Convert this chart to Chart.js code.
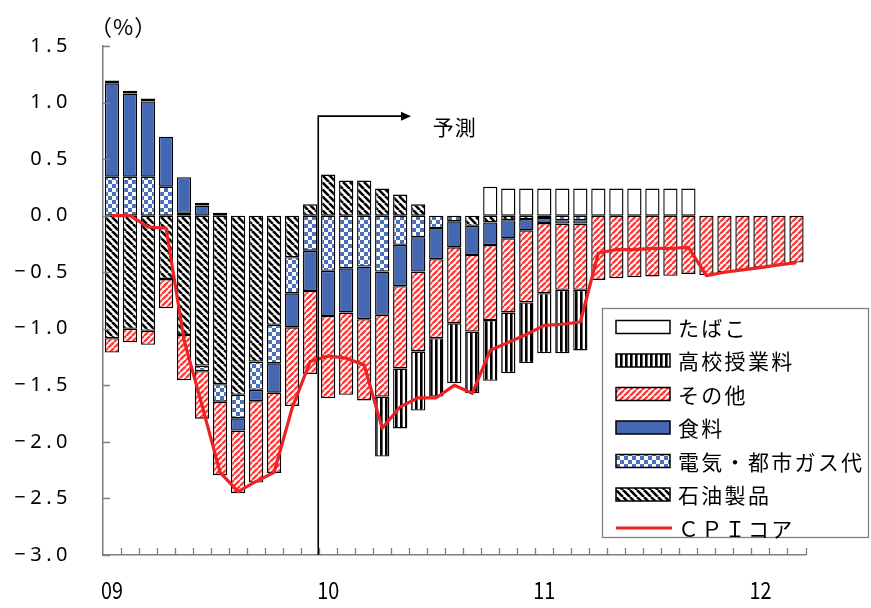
<!DOCTYPE html>
<html>
<head>
<meta charset="utf-8">
<script src="https://cdn.jsdelivr.net/npm/chart.js@4.4.1/dist/chart.umd.min.js"></script>
<style>
  html, body { margin: 0; padding: 0; background: #ffffff; }
  #wrap { position: relative; width: 871px; height: 608px; }
  canvas { display: block; }
</style>
</head>
<body>
<div id="wrap"><canvas id="c" width="871" height="608"></canvas></div>
<script>
// Monthly categories, Jan 2009 - Mar 2012
const categories = [
  '09/1','09/2','09/3','09/4','09/5','09/6','09/7','09/8','09/9','09/10','09/11','09/12',
  '10/1','10/2','10/3','10/4','10/5','10/6','10/7','10/8','10/9','10/10','10/11','10/12',
  '11/1','11/2','11/3','11/4','11/5','11/6','11/7','11/8','11/9','11/10','11/11','11/12',
  '12/1','12/2','12/3'
];
const yearTickMonths = ['09/1', '10/1', '11/1', '12/1'];
const yearTickLabels = ['09', '10', '11', '12'];

// Contributions (percentage points)
const oil = [
  -1.083, -1.00, -1.018, -0.56, -1.054, -1.325, -1.49, -1.584, -1.29, -0.965, -0.367, 0.10,
  0.364, 0.31, 0.31, 0.24, 0.187, 0.10, 0, 0, -0.09, -0.06, -0.04, -0.03,
  -0.02, 0, 0, 0, 0, 0, 0, 0, 0, 0, 0, 0, 0, 0, 0
];
const utilities = [
  0.345, 0.345, 0.345, 0.256, 0.025, -0.05, -0.155, -0.207, -0.25, -0.34, -0.32, -0.31,
  -0.488, -0.465, -0.45, -0.494, -0.258, -0.19, -0.11, -0.05, 0, 0, 0, 0,
  0, -0.04, -0.04, 0, 0, 0, 0, 0, 0, 0, 0, 0, 0, 0, 0
];
const food = [
  0.825, 0.735, 0.665, 0.442, 0.315, 0.09, 0, -0.109, -0.10, -0.26, -0.30, -0.355,
  -0.398, -0.391, -0.465, -0.383, -0.365, -0.304, -0.275, -0.23, -0.257, -0.20, -0.16, -0.10,
  -0.045, -0.03, -0.03, 0, 0, 0, 0, 0, 0, 0, 0, 0, 0, 0, 0
];
const others = [
  -0.127, -0.12, -0.124, -0.258, -0.40, -0.42, -0.65, -0.554, -0.72, -0.71, -0.696, -0.735,
  -0.728, -0.728, -0.719, -0.722, -0.728, -0.707, -0.698, -0.671, -0.678, -0.663, -0.656, -0.637,
  -0.62, -0.586, -0.586, -0.568, -0.553, -0.544, -0.538, -0.532, -0.515, -0.525, -0.50, -0.48, -0.46, -0.435, -0.415
];
const tuition = [
  0, 0, 0, 0, 0, 0, 0, 0, 0, 0, 0, 0,
  0, 0, 0, -0.531, -0.53, -0.522, -0.516, -0.53, -0.545, -0.537, -0.537, -0.536,
  -0.531, -0.56, -0.536, 0, 0, 0, 0, 0, 0, 0, 0, 0, 0, 0, 0
];
const tobacco = [
  0.025, 0.025, 0.025, 0, 0, 0.025, 0.025, 0, 0, 0, 0, 0,
  0, 0, 0, 0, 0, 0, 0, 0, 0, 0.255, 0.24, 0.24,
  0.24, 0.24, 0.24, 0.24, 0.24, 0.24, 0.24, 0.24, 0.24, 0, 0, 0, 0, 0, 0
];
const cpiCore = [
  0.0, 0.0, -0.10, -0.11, -1.10, -1.68, -2.27, -2.44, -2.35, -2.27, -1.70, -1.29,
  -1.24, -1.26, -1.32, -1.88, -1.69, -1.61, -1.61, -1.50, -1.57, -1.19, -1.12, -1.05,
  -0.97, -0.96, -0.94, -0.33, -0.30, -0.30, -0.29, -0.29, -0.28, -0.53, -0.50, -0.48, -0.46, -0.435, -0.415
];
const forecastLabel = '予測';
const unitLabel = '（%）';

// ---- fill patterns ----
function makePattern(size, paint) {
  const c = document.createElement('canvas');
  c.width = size; c.height = size;
  const g = c.getContext('2d');
  paint(g, size);
  return g.createPattern(c, 'repeat');
}
const BLUE = '#4467b3';
const RED = '#ff3a3a';
const redHatch = makePattern(6, (g, s) => {
  g.fillStyle = '#ffffff'; g.fillRect(0, 0, s, s);
  g.strokeStyle = RED; g.lineWidth = 2.3;
  g.beginPath();
  for (const k of [-s, 0, s]) { g.moveTo(k, s); g.lineTo(k + s, 0); }
  g.stroke();
});
const blackHatch = makePattern(7, (g, s) => {
  g.fillStyle = '#ffffff'; g.fillRect(0, 0, s, s);
  g.strokeStyle = '#000000'; g.lineWidth = 2.6;
  g.beginPath();
  for (const k of [-s, 0, s]) { g.moveTo(k, 0); g.lineTo(k + s, s); }
  g.stroke();
});
const checker = makePattern(8, (g, s) => {
  g.fillStyle = '#ffffff'; g.fillRect(0, 0, s, s);
  g.fillStyle = '#4a6fbf';
  g.fillRect(0, 0, s / 2, s / 2);
  g.fillRect(s / 2, s / 2, s / 2, s / 2);
});
const vStripes = makePattern(5, (g, s) => {
  g.fillStyle = '#ffffff'; g.fillRect(0, 0, s, s);
  g.fillStyle = '#000000'; g.fillRect(0, 0, 2.6, s);
});

const nz = arr => arr.map(v => (v === 0 ? null : v));

function barSet(label, data, fill) {
  return {
    type: 'bar', label, data: nz(data), backgroundColor: fill,
    borderColor: '#000000', borderWidth: 1.4, borderSkipped: false,
    stack: 'parts', order: 1,
    categoryPercentage: 1.0, barPercentage: 0.79
  };
}

const datasets = [
  barSet('石油製品', oil, blackHatch),
  barSet('電気・都市ガス代', utilities, checker),
  barSet('食料', food, BLUE),
  barSet('その他', others, redHatch),
  barSet('高校授業料', tuition, vStripes),
  barSet('たばこ', tobacco, '#ffffff'),
  {
    type: 'line', label: 'ＣＰＩコア', data: cpiCore, stack: 'core', order: 0,
    borderColor: '#ee2222', borderWidth: 3.2, pointRadius: 0, tension: 0,
    borderJoinStyle: 'round', fill: false
  }
];

const JP = "'Noto Sans CJK JP', 'Noto Sans', sans-serif";
const AXIS = '#7f7f7f';

const decor = {
  id: 'decor',
  beforeDraw(chart) {
    // spacing for the value-axis numbers
    chart.ctx.letterSpacing = '4.5px';
  },
  beforeDatasetsDraw(chart) {
    chart.ctx.letterSpacing = '0px';
  },
  afterDatasetsDraw(chart) {
    const ctx = chart.ctx;
    const xs = chart.scales.x, ys = chart.scales.y;
    ctx.save();
    ctx.letterSpacing = '0px';
    // inward tick marks
    ctx.strokeStyle = AXIS; ctx.lineWidth = 1.3;
    ctx.beginPath();
    ys.ticks.forEach(t => {
      const y = Math.round(ys.getPixelForValue(t.value)) + 0.5;
      ctx.moveTo(xs.left, y); ctx.lineTo(xs.left + 7, y);
    });
    const n = categories.length;
    for (let i = 1; i <= n; i++) {
      const x = Math.round(xs.getPixelForValue(i - 0.5)) + 0.5;
      ctx.moveTo(x, ys.bottom); ctx.lineTo(x, ys.bottom - 7);
    }
    ctx.stroke();

    // year labels under January of each year
    ctx.fillStyle = '#000000';
    ctx.font = '23px ' + JP;
    ctx.textAlign = 'center'; ctx.textBaseline = 'middle';
    yearTickMonths.forEach((m, k) => {
      const x = xs.getPixelForValue(categories.indexOf(m));
      ctx.save();
      ctx.translate(x, ys.bottom + 35);
      ctx.scale(0.86, 1.05);
      ctx.fillText(yearTickLabels[k], 0, 0);
      ctx.restore();
    });

    // forecast marker
    const fx = xs.getPixelForValue(11.45);
    const fy = ys.getPixelForValue(0.88);
    const tipX = xs.getPixelForValue(16.6);
    ctx.strokeStyle = '#000000'; ctx.lineWidth = 1.6;
    ctx.beginPath();
    ctx.moveTo(fx, ys.bottom); ctx.lineTo(fx, fy); ctx.lineTo(tipX - 8, fy);
    ctx.stroke();
    ctx.beginPath();
    ctx.moveTo(tipX, fy); ctx.lineTo(tipX - 10, fy - 4.5); ctx.lineTo(tipX - 10, fy + 4.5);
    ctx.closePath(); ctx.fill();

    ctx.font = '21px ' + JP;
    ctx.textBaseline = 'middle'; ctx.textAlign = 'left';
    ctx.letterSpacing = '1px';
    ctx.fillText(forecastLabel, xs.getPixelForValue(17.8), fy + 11);

    // unit
    ctx.font = '22px ' + JP;
    ctx.letterSpacing = '1px';
    ctx.fillText(unitLabel, xs.left - 13, ys.top - 19);
    ctx.restore();
  },
  afterDraw(chart) {
    const ctx = chart.ctx;
    ctx.save();
    const bx = 602.5, by = 308.5, bw = 266, bh = 229;
    ctx.fillStyle = '#ffffff';
    ctx.fillRect(bx, by, bw, bh);
    ctx.strokeStyle = '#808080'; ctx.lineWidth = 1.3;
    ctx.strokeRect(bx, by, bw, bh);

    const bars = chart.data.datasets.filter(d => d.type === 'bar').slice().reverse();
    const line = chart.data.datasets.find(d => d.type === 'line');
    const items = bars.concat([line]);
    const rowH = 33.5, y0 = by + 18.5;
    ctx.font = '21px ' + JP;
    ctx.letterSpacing = '2.3px';
    ctx.textBaseline = 'middle'; ctx.textAlign = 'left';
    items.forEach((d, i) => {
      const cy = y0 + i * rowH;
      if (d.type === 'bar') {
        ctx.fillStyle = d.backgroundColor;
        ctx.fillRect(616, cy - 6.5, 54, 13);
        ctx.strokeStyle = '#000000'; ctx.lineWidth = 1.5;
        ctx.strokeRect(616, cy - 6.5, 54, 13);
      } else {
        ctx.strokeStyle = d.borderColor; ctx.lineWidth = 3.2;
        ctx.beginPath(); ctx.moveTo(616, cy); ctx.lineTo(672, cy); ctx.stroke();
      }
      ctx.fillStyle = '#000000';
      ctx.fillText(d.label, 678, cy + 1);
    });
    ctx.restore();
  }
};

new Chart(document.getElementById('c'), {
  data: { labels: categories, datasets },
  options: {
    responsive: false,
    animation: false,
    events: [],
    layout: { padding: { top: 46, right: 65.5, left: 0, bottom: 0 } },
    plugins: { legend: { display: false }, tooltip: { enabled: false } },
    scales: {
      x: {
        stacked: true,
        offset: true,
        grid: { display: false, drawTicks: false },
        border: { display: true, color: AXIS, width: 1.5 },
        ticks: { display: false },
        afterFit: s => { s.height = 53; }
      },
      y: {
        stacked: true,
        min: -3.0, max: 1.5,
        grid: { display: false, drawTicks: false },
        border: { display: true, color: AXIS, width: 1.5 },
        ticks: {
          stepSize: 0.5, padding: 31, color: '#000000',
          font: { family: "'Noto Sans', 'DejaVu Sans', sans-serif", size: 20 },
          callback: v => v.toFixed(1).replace('-', '\u2212')
        },
        afterFit: s => { s.width = 103; }
      }
    }
  },
  plugins: [decor]
});
</script>
</body>
</html>
